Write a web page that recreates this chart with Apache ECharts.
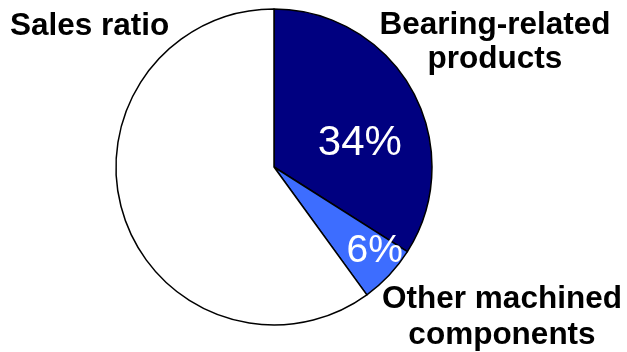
<!DOCTYPE html>
<html>
<head>
<meta charset="utf-8">
<script src="https://cdn.jsdelivr.net/npm/echarts@6/dist/echarts.min.js"></script>
<style>
  html, body { margin: 0; padding: 0; background: #fff; }
  #chart { width: 627px; height: 352px; }
</style>
</head>
<body>
<div id="chart"></div>
<script>
// Sales breakdown by product line (percent of total sales)
const categories = ['Bearing-related products', 'Other machined components', 'Other'];
const shares = [34, 6, 60];
const displayNames = ['Bearing-related\nproducts', 'Other machined\ncomponents', ''];
const chartTitle = 'Sales ratio';

const sliceColors = ['#000080', '#3D6DFF', '#FFFFFF'];
const labelSizes = [42, 39, 0];
// nudges of the percent labels from the default inside position
const labelNudge = [[14, 16], [41, 28], [0, 0]];

const chart = echarts.init(document.getElementById('chart'), null, { renderer: 'canvas' });

const pieData = categories.map((c, i) => ({
  name: c,
  value: shares[i],
  itemStyle: { color: sliceColors[i] },
  label: {
    show: i < 2,
    fontSize: labelSizes[i]
  }
}));

const nameFont = 'bold 31.5px "Liberation Sans", Arial, sans-serif';

chart.setOption({
  animation: false,
  backgroundColor: '#ffffff',
  title: {
    text: chartTitle,
    left: 5,
    top: 5,
    textStyle: {
      fontFamily: 'Liberation Sans, Arial, sans-serif',
      fontWeight: 'bold',
      fontSize: 31.5,
      color: '#000'
    }
  },
  series: [{
    type: 'pie',
    center: [274, 167],
    radius: 158,
    startAngle: 90,
    clockwise: true,
    silent: true,
    itemStyle: { borderColor: '#000', borderWidth: 1.5 },
    label: {
      position: 'inside',
      formatter: p => p.value + '%',
      color: '#fff',
      fontFamily: 'Liberation Sans, Arial, sans-serif',
      fontWeight: 'normal'
    },
    labelLine: { show: false },
    labelLayout: p => ({ dx: labelNudge[p.dataIndex][0], dy: labelNudge[p.dataIndex][1] }),
    data: pieData
  }],
  graphic: [
    {
      type: 'text',
      x: 495,
      y: 8,
      style: {
        text: displayNames[0],
        font: nameFont,
        fill: '#000',
        align: 'center',
        verticalAlign: 'top',
        lineHeight: 34
      }
    },
    {
      type: 'text',
      x: 502,
      y: 281,
      style: {
        text: displayNames[1],
        font: nameFont,
        fill: '#000',
        align: 'center',
        verticalAlign: 'top',
        lineHeight: 36
      }
    }
  ]
});
</script>
</body>
</html>
